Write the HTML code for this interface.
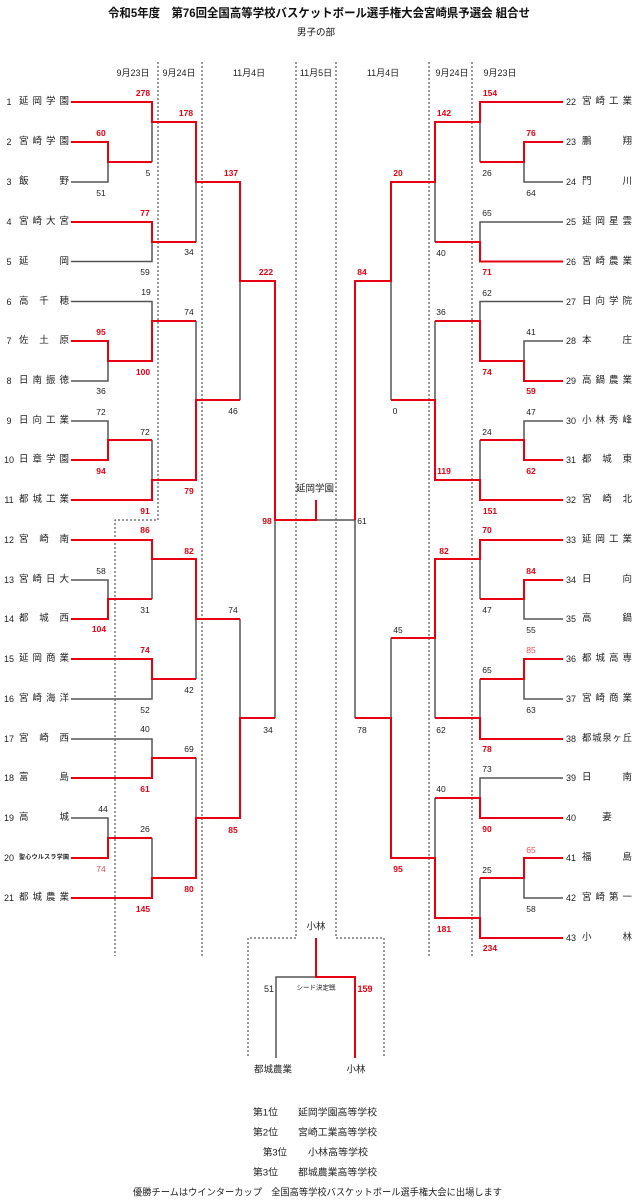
<!DOCTYPE html>
<html><head><meta charset="utf-8">
<style>
html,body{margin:0;padding:0;background:#fff;}
body{width:634px;height:1200px;position:relative;overflow:hidden;font-family:"Liberation Sans","Noto Sans CJK JP",sans-serif;color:#222;}
svg{position:absolute;left:0;top:0;}
.n{position:absolute;width:50px;height:14px;line-height:14px;font-size:9.5px;display:flex;justify-content:space-between;white-space:nowrap;}
.n span{display:block;}
.l{left:19px}
.r{left:582px}
.c{justify-content:center}
.num{position:absolute;font-size:9px;height:14px;line-height:14px;}
.ln{left:2px;width:14px;text-align:center}
.rn{left:566px}
.sm{font-size:6px;font-weight:bold;}
</style></head><body>
<svg width="634" height="1200" viewBox="0 0 634 1200" xmlns="http://www.w3.org/2000/svg">
<g fill="none" stroke="#333" stroke-width="1" stroke-dasharray="2 2">
<path d="M158 62 V520 H115 V956"/>
<path d="M202 62 V956"/>
<path d="M296 62 V938 H248 V1058"/>
<path d="M336 62 V938 H384 V1058"/>
<path d="M429 62 V956"/>
<path d="M472 62 V956"/>
</g>
<g fill="none" stroke="#555" stroke-width="1.5">
<path d="M71 182 H108 V162"/>
<path d="M152 122 V162"/>
<path d="M71 261.5 H152 V242"/>
<path d="M196 182 V242"/>
<path d="M71 301.5 H152 V321"/>
<path d="M71 381 H108 V361"/>
<path d="M196 321 V400"/>
<path d="M71 421 H108 V440"/>
<path d="M152 440 V480"/>
<path d="M240 281 V400"/>
<path d="M71 580 H108 V599"/>
<path d="M152 559 V599"/>
<path d="M71 699 H152 V679"/>
<path d="M196 619 V679"/>
<path d="M240 619 V718"/>
<path d="M71 739 H152 V758"/>
<path d="M196 758 V818"/>
<path d="M71 818 H108 V838"/>
<path d="M152 838 V878"/>
<path d="M275 520 V718"/>
<path d="M316 520 H355"/>
<path d="M563 182 H524 V162"/>
<path d="M480 122 V162"/>
<path d="M563 222 H480 V242"/>
<path d="M435 182 V242"/>
<path d="M563 301.5 H480 V321"/>
<path d="M563 341 H524 V361"/>
<path d="M435 321 V400"/>
<path d="M563 421 H524 V440"/>
<path d="M480 440 V480"/>
<path d="M391 281 V400"/>
<path d="M563 619 H524 V599"/>
<path d="M480 559 V599"/>
<path d="M563 699 H524 V679"/>
<path d="M480 679 V718"/>
<path d="M435 638 V718"/>
<path d="M391 638 V718"/>
<path d="M563 778 H480 V798"/>
<path d="M435 798 V858"/>
<path d="M563 898 H524 V878"/>
<path d="M480 878 V918"/>
<path d="M355 520 V718"/>
<path d="M316 977 H276 V1058"/>
</g>
<g fill="none" stroke="#e60012" stroke-width="2">
<path d="M71 102 H152 V122 H196 V182 H240 V281 H275 V520 H316 V500"/>
<path d="M71 142 H108 V162 H152"/>
<path d="M71 222 H152 V242 H196"/>
<path d="M71 341 H108 V361 H152 V321 H196"/>
<path d="M71 460 H108 V440 H152"/>
<path d="M71 500 H152 V480 H196 V400 H240"/>
<path d="M71 540 H152 V559 H196 V619 H240"/>
<path d="M71 619 H108 V599 H152"/>
<path d="M71 659 H152 V679 H196"/>
<path d="M71 778 H152 V758 H196"/>
<path d="M71 858 H108 V838 H152"/>
<path d="M71 898 H152 V878 H196 V818 H240 V718 H275"/>
<path d="M563 102 H480 V122 H435 V182 H391 V281 H355 V520"/>
<path d="M563 142 H524 V162 H480"/>
<path d="M563 261.5 H480 V242 H435"/>
<path d="M563 381 H524 V361 H480 V321 H435"/>
<path d="M563 460 H524 V440 H480"/>
<path d="M563 500 H480 V480 H435 V400 H391"/>
<path d="M563 540 H480 V559 H435 V638 H391"/>
<path d="M563 580 H524 V599 H480"/>
<path d="M563 659 H524 V679 H480"/>
<path d="M563 739 H480 V718 H435"/>
<path d="M563 818 H480 V798 H435"/>
<path d="M563 858 H524 V878 H480"/>
<path d="M563 938 H480 V918 H435 V858 H391 V718 H355"/>
<path d="M316 938 V977 H355 V1058"/>
</g>

<g font-family="Liberation Sans, Noto Sans CJK JP, sans-serif" fill="#111">
<text x="108" y="13" font-size="12" font-weight="bold" dominant-baseline="central" textLength="422" lengthAdjust="spacingAndGlyphs">令和5年度　第76回全国高等学校バスケットボール選手権大会宮崎県予選会 組合せ</text>
<text x="316" y="33" font-size="9.5" text-anchor="middle" dominant-baseline="central">男子の部</text>
</g>
<g font-family="Liberation Sans, Noto Sans CJK JP, sans-serif" font-size="9" fill="#222" text-anchor="middle" dominant-baseline="central">
<text x="133" y="73">9月23日</text>
<text x="179" y="73">9月24日</text>
<text x="249" y="73">11月4日</text>
<text x="316" y="73">11月5日</text>
<text x="383" y="73">11月4日</text>
<text x="452" y="73">9月24日</text>
<text x="500" y="73">9月23日</text>
</g>

<g font-family="Liberation Sans, sans-serif" font-size="8.5" text-anchor="middle" dominant-baseline="central">
<g fill="#e60012" font-weight="bold">
<text x="143" y="93">278</text>
<text x="101" y="133">60</text>
<text x="186" y="113">178</text>
<text x="145" y="213">77</text>
<text x="231" y="173">137</text>
<text x="266" y="272">222</text>
<text x="101" y="332">95</text>
<text x="143" y="372">100</text>
<text x="101" y="471">94</text>
<text x="145" y="511">91</text>
<text x="189" y="491">79</text>
<text x="145" y="530">86</text>
<text x="99" y="629">104</text>
<text x="189" y="551">82</text>
<text x="145" y="650">74</text>
<text x="145" y="789">61</text>
<text x="143" y="909">145</text>
<text x="189" y="889">80</text>
<text x="233" y="830">85</text>
<text x="267" y="521">98</text>
<text x="490" y="93">154</text>
<text x="531" y="133">76</text>
<text x="444" y="113">142</text>
<text x="487" y="272">71</text>
<text x="398" y="173">20</text>
<text x="362" y="272">84</text>
<text x="531" y="391">59</text>
<text x="487" y="372">74</text>
<text x="531" y="471">62</text>
<text x="490" y="511">151</text>
<text x="444" y="471">119</text>
<text x="487" y="530">70</text>
<text x="531" y="571">84</text>
<text x="444" y="551">82</text>
<text x="487" y="749">78</text>
<text x="487" y="829">90</text>
<text x="490" y="948">234</text>
<text x="444" y="929">181</text>
<text x="398" y="869">95</text>
</g>
<g fill="#e8505a">
<text x="101" y="869">74</text>
<text x="531" y="650">85</text>
<text x="531" y="850">65</text>
</g>
<g fill="#222">
<text x="101" y="193">51</text>
<text x="148" y="173">5</text>
<text x="145" y="272">59</text>
<text x="189" y="252">34</text>
<text x="146" y="292">19</text>
<text x="101" y="391">36</text>
<text x="189" y="312">74</text>
<text x="101" y="412">72</text>
<text x="145" y="432">72</text>
<text x="233" y="411">46</text>
<text x="101" y="571">58</text>
<text x="145" y="610">31</text>
<text x="145" y="710">52</text>
<text x="189" y="690">42</text>
<text x="233" y="610">74</text>
<text x="268" y="730">34</text>
<text x="145" y="729">40</text>
<text x="189" y="749">69</text>
<text x="103" y="809">44</text>
<text x="145" y="829">26</text>
<text x="531" y="193">64</text>
<text x="487" y="173">26</text>
<text x="487" y="213">65</text>
<text x="441" y="253">40</text>
<text x="487" y="293">62</text>
<text x="441" y="312">36</text>
<text x="531" y="332">41</text>
<text x="531" y="412">47</text>
<text x="487" y="432">24</text>
<text x="395" y="411">0</text>
<text x="362" y="521">61</text>
<text x="531" y="630">55</text>
<text x="487" y="610">47</text>
<text x="531" y="710">63</text>
<text x="487" y="670">65</text>
<text x="441" y="730">62</text>
<text x="398" y="630">45</text>
<text x="362" y="730">78</text>
<text x="487" y="769">73</text>
<text x="441" y="789">40</text>
<text x="531" y="909">58</text>
<text x="487" y="870">25</text>
</g>
</g>

<g font-family="Liberation Sans, Noto Sans CJK JP, sans-serif" fill="#222" text-anchor="middle" dominant-baseline="central">
<text x="315" y="489" font-size="9.5">延岡学園</text>
<text x="316" y="927" font-size="9.5">小林</text>
<text x="316" y="988" font-size="6.5">シード決定戦</text>
<text x="269" y="989" font-size="9">51</text>
<text x="365" y="989" font-size="9" font-weight="bold" fill="#e60012">159</text>
<text x="273" y="1070" font-size="9.5">都城農業</text>
<text x="356" y="1070" font-size="9.5">小林</text>
</g>

<g font-family="Liberation Sans, Noto Sans CJK JP, sans-serif" fill="#222" font-size="9.5" dominant-baseline="central">
<text x="253" y="1113" textLength="25" lengthAdjust="spacingAndGlyphs">第1位</text>
<text x="298" y="1113" textLength="79" lengthAdjust="spacingAndGlyphs">延岡学園高等学校</text>
<text x="253" y="1133" textLength="25" lengthAdjust="spacingAndGlyphs">第2位</text>
<text x="298" y="1133" textLength="79" lengthAdjust="spacingAndGlyphs">宮崎工業高等学校</text>
<text x="263" y="1153" textLength="24" lengthAdjust="spacingAndGlyphs">第3位</text>
<text x="308" y="1153" textLength="60" lengthAdjust="spacingAndGlyphs">小林高等学校</text>
<text x="253" y="1173" textLength="25" lengthAdjust="spacingAndGlyphs">第3位</text>
<text x="298" y="1173" textLength="79" lengthAdjust="spacingAndGlyphs">都城農業高等学校</text>
<text x="133" y="1193" textLength="369" lengthAdjust="spacingAndGlyphs">優勝チームはウインターカップ　全国高等学校バスケットボール選手権大会に出場します</text>
</g>
</svg>

<!-- left numbers -->
<div class="num ln" style="top:95px">1</div>
<div class="num ln" style="top:135px">2</div>
<div class="num ln" style="top:175px">3</div>
<div class="num ln" style="top:215px">4</div>
<div class="num ln" style="top:254.5px">5</div>
<div class="num ln" style="top:294.5px">6</div>
<div class="num ln" style="top:334px">7</div>
<div class="num ln" style="top:374px">8</div>
<div class="num ln" style="top:414px">9</div>
<div class="num ln" style="top:453px">10</div>
<div class="num ln" style="top:493px">11</div>
<div class="num ln" style="top:533px">12</div>
<div class="num ln" style="top:573px">13</div>
<div class="num ln" style="top:612px">14</div>
<div class="num ln" style="top:652px">15</div>
<div class="num ln" style="top:692px">16</div>
<div class="num ln" style="top:732px">17</div>
<div class="num ln" style="top:771px">18</div>
<div class="num ln" style="top:811px">19</div>
<div class="num ln" style="top:851px">20</div>
<div class="num ln" style="top:891px">21</div>

<!-- left names -->
<div class="n l" style="top:95px"><span>延</span><span>岡</span><span>学</span><span>園</span></div>
<div class="n l" style="top:135px"><span>宮</span><span>崎</span><span>学</span><span>園</span></div>
<div class="n l" style="top:175px"><span>飯</span><span>野</span></div>
<div class="n l" style="top:215px"><span>宮</span><span>崎</span><span>大</span><span>宮</span></div>
<div class="n l" style="top:254.5px"><span>延</span><span>岡</span></div>
<div class="n l" style="top:294.5px"><span>高</span><span>千</span><span>穂</span></div>
<div class="n l" style="top:334px"><span>佐</span><span>土</span><span>原</span></div>
<div class="n l" style="top:374px"><span>日</span><span>南</span><span>振</span><span>徳</span></div>
<div class="n l" style="top:414px"><span>日</span><span>向</span><span>工</span><span>業</span></div>
<div class="n l" style="top:453px"><span>日</span><span>章</span><span>学</span><span>園</span></div>
<div class="n l" style="top:493px"><span>都</span><span>城</span><span>工</span><span>業</span></div>
<div class="n l" style="top:533px"><span>宮</span><span>崎</span><span>南</span></div>
<div class="n l" style="top:573px"><span>宮</span><span>崎</span><span>日</span><span>大</span></div>
<div class="n l" style="top:612px"><span>都</span><span>城</span><span>西</span></div>
<div class="n l" style="top:652px"><span>延</span><span>岡</span><span>商</span><span>業</span></div>
<div class="n l" style="top:692px"><span>宮</span><span>崎</span><span>海</span><span>洋</span></div>
<div class="n l" style="top:732px"><span>宮</span><span>崎</span><span>西</span></div>
<div class="n l" style="top:771px"><span>富</span><span>島</span></div>
<div class="n l" style="top:811px"><span>高</span><span>城</span></div>
<div class="n l sm" style="top:851px"><span>聖</span><span>心</span><span>ウ</span><span>ル</span><span>ス</span><span>ラ</span><span>学</span><span>園</span></div>
<div class="n l" style="top:891px"><span>都</span><span>城</span><span>農</span><span>業</span></div>

<!-- right numbers -->
<div class="num rn" style="top:95px">22</div>
<div class="num rn" style="top:135px">23</div>
<div class="num rn" style="top:175px">24</div>
<div class="num rn" style="top:215px">25</div>
<div class="num rn" style="top:254.5px">26</div>
<div class="num rn" style="top:294.5px">27</div>
<div class="num rn" style="top:334px">28</div>
<div class="num rn" style="top:374px">29</div>
<div class="num rn" style="top:414px">30</div>
<div class="num rn" style="top:453px">31</div>
<div class="num rn" style="top:493px">32</div>
<div class="num rn" style="top:533px">33</div>
<div class="num rn" style="top:573px">34</div>
<div class="num rn" style="top:612px">35</div>
<div class="num rn" style="top:652px">36</div>
<div class="num rn" style="top:692px">37</div>
<div class="num rn" style="top:732px">38</div>
<div class="num rn" style="top:771px">39</div>
<div class="num rn" style="top:811px">40</div>
<div class="num rn" style="top:851px">41</div>
<div class="num rn" style="top:891px">42</div>
<div class="num rn" style="top:931px">43</div>

<!-- right names -->
<div class="n r" style="top:95px"><span>宮</span><span>崎</span><span>工</span><span>業</span></div>
<div class="n r" style="top:135px"><span>鵬</span><span>翔</span></div>
<div class="n r" style="top:175px"><span>門</span><span>川</span></div>
<div class="n r" style="top:215px"><span>延</span><span>岡</span><span>星</span><span>雲</span></div>
<div class="n r" style="top:254.5px"><span>宮</span><span>崎</span><span>農</span><span>業</span></div>
<div class="n r" style="top:294.5px"><span>日</span><span>向</span><span>学</span><span>院</span></div>
<div class="n r" style="top:334px"><span>本</span><span>庄</span></div>
<div class="n r" style="top:374px"><span>高</span><span>鍋</span><span>農</span><span>業</span></div>
<div class="n r" style="top:414px"><span>小</span><span>林</span><span>秀</span><span>峰</span></div>
<div class="n r" style="top:453px"><span>都</span><span>城</span><span>東</span></div>
<div class="n r" style="top:493px"><span>宮</span><span>崎</span><span>北</span></div>
<div class="n r" style="top:533px"><span>延</span><span>岡</span><span>工</span><span>業</span></div>
<div class="n r" style="top:573px"><span>日</span><span>向</span></div>
<div class="n r" style="top:612px"><span>高</span><span>鍋</span></div>
<div class="n r" style="top:652px"><span>都</span><span>城</span><span>高</span><span>専</span></div>
<div class="n r" style="top:692px"><span>宮</span><span>崎</span><span>商</span><span>業</span></div>
<div class="n r" style="top:732px"><span>都</span><span>城</span><span>泉</span><span>ヶ</span><span>丘</span></div>
<div class="n r" style="top:771px"><span>日</span><span>南</span></div>
<div class="n r c" style="top:811px"><span>妻</span></div>
<div class="n r" style="top:851px"><span>福</span><span>島</span></div>
<div class="n r" style="top:891px"><span>宮</span><span>崎</span><span>第</span><span>一</span></div>
<div class="n r" style="top:931px"><span>小</span><span>林</span></div>
</body></html>
